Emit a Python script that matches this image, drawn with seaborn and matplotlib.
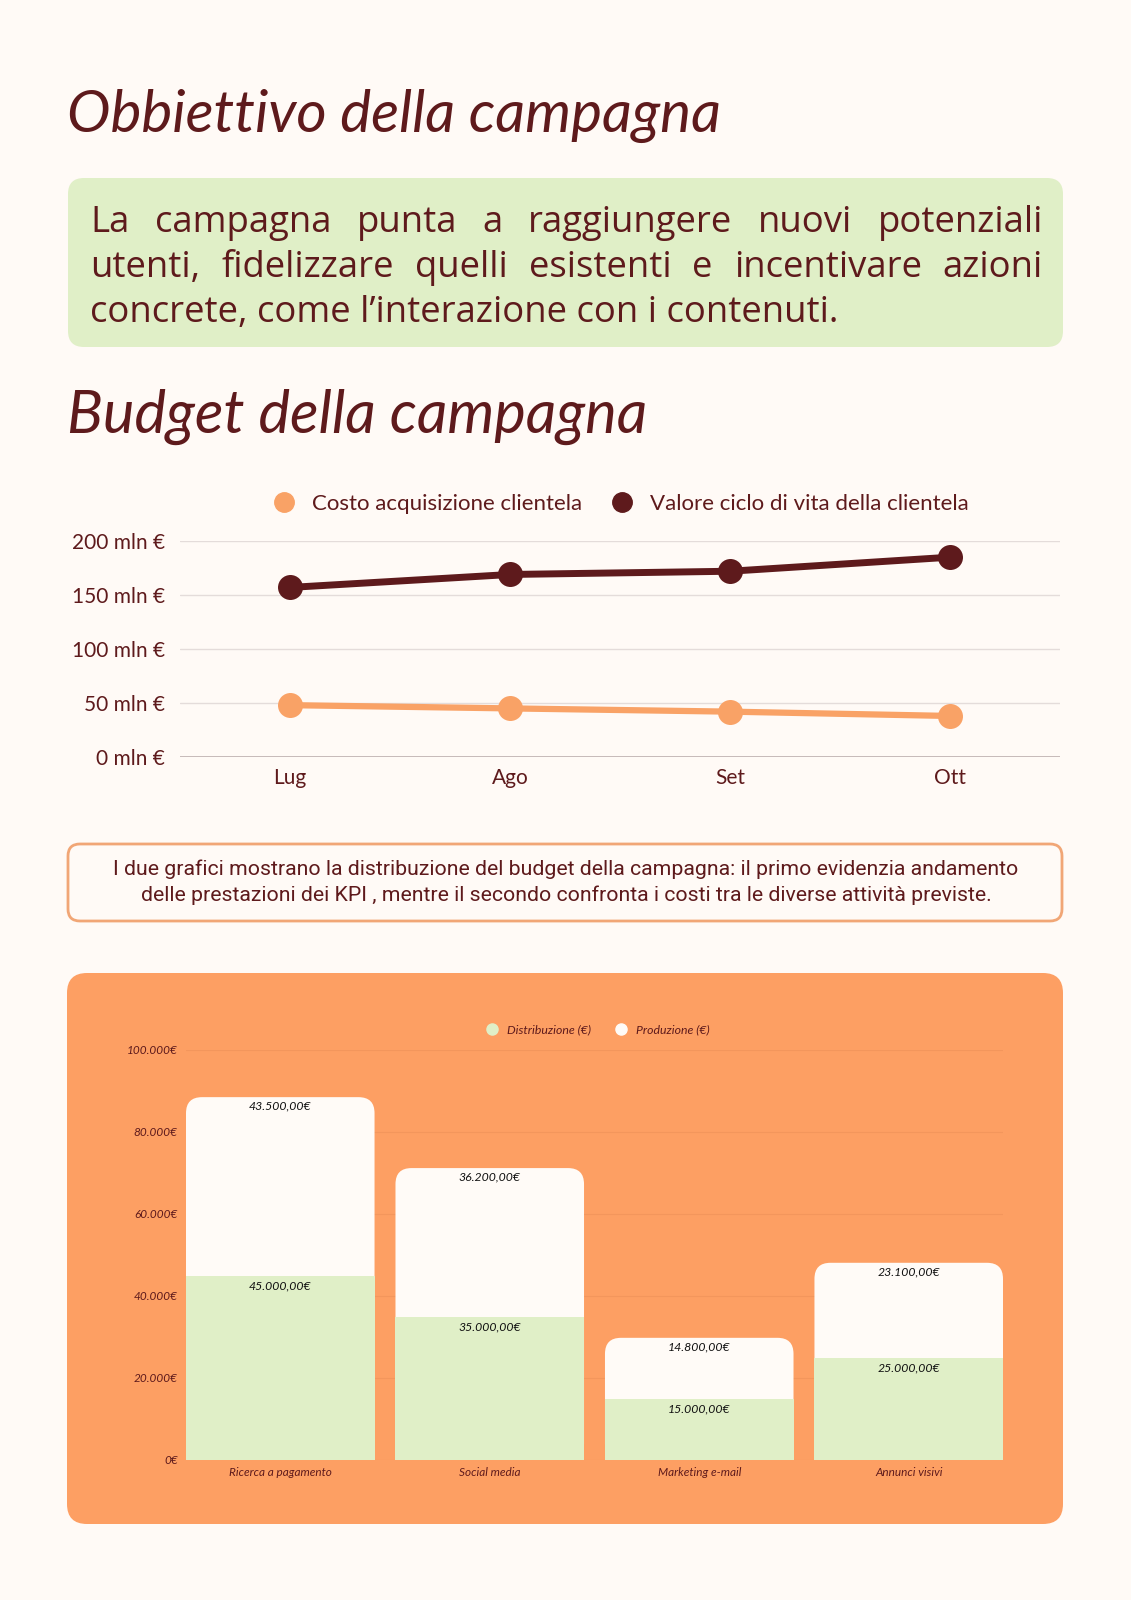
import matplotlib
matplotlib.use('Agg')
import matplotlib.pyplot as plt
from matplotlib.patches import FancyBboxPatch
from matplotlib.lines import Line2D
import pandas as pd
import seaborn as sns

# --- dati grafico a linee (mln €)
mesi = ['Lug', 'Ago', 'Set', 'Ott']
costo_acquisizione = [48, 45, 42, 38]
valore_ciclo_vita = [157, 169, 172, 185]
serie_linee = ['Costo acquisizione clientela', 'Valore ciclo di vita della clientela']
tick_linee = [0, 50, 100, 150, 200]

# --- dati grafico a barre (€)
attivita = ['Ricerca a pagamento', 'Social media', 'Marketing e-mail', 'Annunci visivi']
distribuzione = [45000, 35000, 15000, 25000]
produzione = [43500, 36200, 14800, 23100]
serie_barre = ['Distribuzione (€)', 'Produzione (€)']
tick_barre = [0, 20000, 40000, 60000, 80000, 100000]

# --- testi
titolo1 = 'Obbiettivo della campagna'
titolo2 = 'Budget della campagna'
paragrafo = ['La campagna punta a raggiungere nuovi potenziali',
             'utenti, fidelizzare quelli esistenti e incentivare azioni',
             'concrete, come l\u2019interazione con i contenuti.']
nota = ['I due grafici mostrano la distribuzione del budget della campagna: il primo evidenzia andamento',
        'delle prestazioni dei KPI , mentre il secondo confronta i costi tra le diverse attività previste.']

# colori
BG = '#FFFAF6'
MAROON = '#5E1A1C'
GREEN = '#E0EFC7'
ORANGE = '#F9A266'
PANEL = '#FD9F63'
CREAM = '#FFFBF7'
BORDER = '#F1A676'

W, H = 1131, 1600
sns.set_theme(style='white')
plt.rcParams['font.family'] = ['Lato', 'DejaVu Sans']

fig = plt.figure(figsize=(W / 100, H / 100), dpi=100, facecolor=BG)
bg = fig.add_axes([0, 0, 1, 1], zorder=0)
bg.set_xlim(0, W)
bg.set_ylim(H, 0)
bg.axis('off')
renderer = fig.canvas.get_renderer()


def ax_rect(x0, y0, x1, y1):
    return [x0 / W, 1 - y1 / H, (x1 - x0) / W, (y1 - y0) / H]


def fit(t, width):
    # adatta la dimensione del testo alla larghezza voluta (px)
    t.set_fontsize(t.get_fontsize() * width / t.get_window_extent(renderer).width)


def justify(words, y, x0, x1, **kw):
    texts = [bg.text(0, y, w, va='baseline', **kw) for w in words]
    widths = [t.get_window_extent(renderer).width for t in texts]
    gap = (x1 - x0 - sum(widths)) / (len(words) - 1)
    x = x0
    for t, w in zip(texts, widths):
        t.set_x(x)
        x += w + gap


# titoli
t1 = bg.text(67, 132, titolo1, fontsize=40, style='italic', color=MAROON, va='baseline')
fit(t1, 653)
t2 = bg.text(67, 433, titolo2, fontsize=40, style='italic', color=MAROON, va='baseline')
fit(t2, 580)

# riquadro verde
bg.add_patch(FancyBboxPatch((68, 178), 995, 169, boxstyle='round,pad=0,rounding_size=16',
                            fc=GREEN, ec='none'))
par_kw = dict(fontsize=22, color=MAROON, family='Open Sans')
t3 = bg.text(90, 322, paragrafo[2], va='baseline', **par_kw)
fit(t3, 748)
par_kw['fontsize'] = t3.get_fontsize()
justify(paragrafo[0].split(), 232, 90, 1043, **par_kw)
justify(paragrafo[1].split(), 277, 90, 1043, **par_kw)

# riquadro nota
bg.add_patch(FancyBboxPatch((68, 844), 994, 77, boxstyle='round,pad=0,rounding_size=12',
                            fc=BG, ec=BORDER, lw=2))
for i, riga in enumerate(nota):
    bg.text(566, 869 + 26 * i, riga, ha='center', va='center', fontsize=15.3,
            color=MAROON, family='Roboto')

# pannello arancione
bg.add_patch(FancyBboxPatch((67, 973), 996, 551, boxstyle='round,pad=0,rounding_size=20',
                            fc=PANEL, ec='none'))

# ---------------- grafico a linee
ax1 = fig.add_axes(ax_rect(180, 541, 1060, 757), zorder=2)
ax1.patch.set_alpha(0)
df = pd.DataFrame({'Mese': mesi * 2,
                   'Valore': costo_acquisizione + valore_ciclo_vita,
                   'Serie': [serie_linee[0]] * 4 + [serie_linee[1]] * 4})
sns.lineplot(data=df, x='Mese', y='Valore', hue='Serie', palette=[ORANGE, MAROON],
             marker='o', markersize=18, markeredgewidth=0, linewidth=5,
             legend=False, sort=False, ax=ax1)
for ln in ax1.lines:
    ln.set_clip_on(False)
ax1.lines[0].set_linewidth(4.5)
ax1.set_xlim(-0.5, 3.5)
ax1.set_ylim(0, 200)
ax1.set_yticks(tick_linee)
ax1.set_yticklabels([f'{v} mln \u20ac' for v in tick_linee])
ax1.set_xlabel('')
ax1.set_ylabel('')
ax1.yaxis.grid(True, color='#E4DCDA', lw=1)
ax1.axhline(0, color='#C2B5B5', lw=1.3, zorder=1)
sns.despine(ax=ax1, left=True, bottom=True)
ax1.tick_params(axis='y', length=0, pad=11, labelsize=15, labelcolor=MAROON)
ax1.tick_params(axis='x', length=0, pad=8, labelsize=15, labelcolor=MAROON)
handles = [Line2D([], [], marker='o', ls='', color=c, markersize=14) for c in [ORANGE, MAROON]]
ax1.legend(handles, serie_linee, loc='center', bbox_to_anchor=(0.495, 1.171), ncol=2,
           frameon=False, fontsize=16, labelcolor=MAROON, handletextpad=0.25,
           columnspacing=0.8)

# ---------------- grafico a barre
ax2 = fig.add_axes(ax_rect(186, 1050, 1003, 1460), zorder=2)
ax2.patch.set_alpha(0)
totali = [d + p for d, p in zip(distribuzione, produzione)]
sns.barplot(x=attivita, y=totali, color=CREAM, width=0.9, saturation=1,
            errorbar=None, linewidth=0, ax=ax2)
ax2.set_xlim(-0.45, 3.45)
ax2.set_ylim(0, 100000)
px_x = 3.9 / 817
px_y = 100000 / 410
for p in list(ax2.patches):
    x, w, h = p.get_x(), p.get_width(), p.get_height()
    p.remove()
    ax2.add_patch(FancyBboxPatch((x, 0), w, h,
                                 boxstyle=f'round,pad=0,rounding_size={16 * px_x}',
                                 mutation_aspect=px_y / px_x, fc=CREAM, ec='none',
                                 lw=0, zorder=2))
sns.barplot(x=attivita, y=distribuzione, color=GREEN, width=0.9, saturation=1,
            errorbar=None, linewidth=0, edgecolor=GREEN, ax=ax2, zorder=3)
ax2.set_xlim(-0.45, 3.45)
ax2.set_ylim(0, 100000)


def euro(v):
    return f'{v:,.2f}'.replace(',', 'X').replace('.', ',').replace('X', '.') + '\u20ac'


for i in range(len(attivita)):
    ax2.text(i, totali[i] - 9 * px_y, euro(produzione[i]), ha='center', va='center',
             fontsize=8.8, style='italic', color='#111111', zorder=5)
    ax2.text(i, distribuzione[i] - 10 * px_y, euro(distribuzione[i]), ha='center', va='center',
             fontsize=8.8, style='italic', color='#111111', zorder=5)

ax2.set_yticks(tick_barre)
ax2.set_yticklabels([f'{v:,.0f}'.replace(',', '.') + '\u20ac' for v in tick_barre])
ax2.yaxis.grid(True, color='#F3965C', lw=0.8)
ax2.set_axisbelow(True)
sns.despine(ax=ax2, left=True, bottom=True)
ax2.tick_params(axis='y', length=0, pad=6, labelsize=8.5, labelcolor=MAROON)
ax2.tick_params(axis='x', length=0, pad=5, labelsize=8.5, labelcolor=MAROON)
for lab in ax2.get_xticklabels() + ax2.get_yticklabels():
    lab.set_style('italic')
handles = [Line2D([], [], marker='o', ls='', color=c, markersize=8) for c in [GREEN, CREAM]]
ax2.legend(handles, serie_barre, loc='center', bbox_to_anchor=(0.5, 1.049), ncol=2,
           frameon=False, labelcolor=MAROON, handletextpad=0.2, columnspacing=1.5,
           prop=dict(size=8.8, style='italic'))

fig.savefig('out.png', dpi=100, facecolor=BG)
